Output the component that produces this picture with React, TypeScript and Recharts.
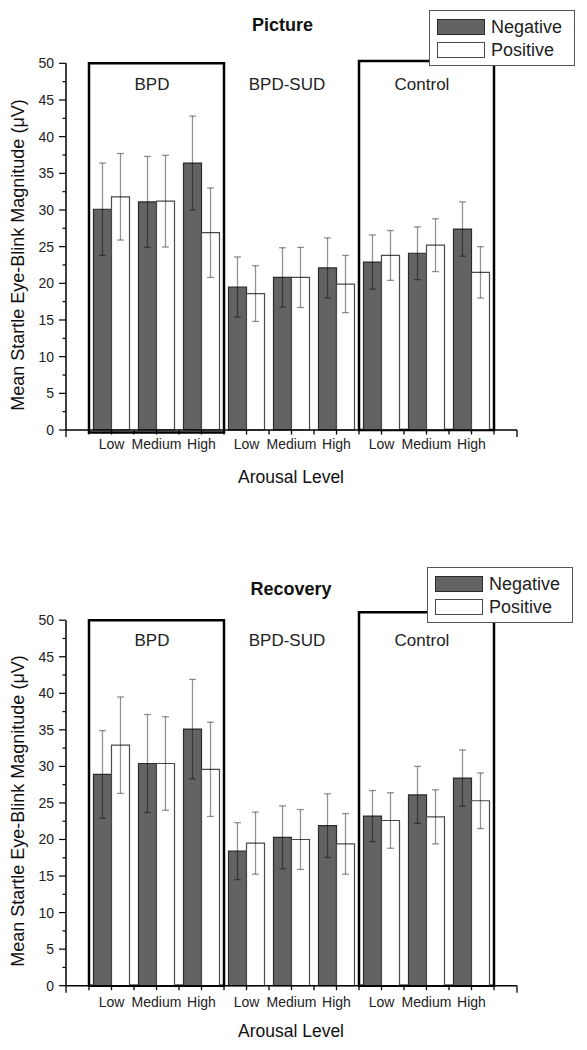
import React from 'react';
import { BarChart, Bar, XAxis, YAxis, ErrorBar, ReferenceArea, Legend } from 'recharts';

const groups = ['BPD', 'BPD-SUD', 'Control'];
const levels = ['Low', 'Medium', 'High'];
const valueTicks = [0, 2.5, 5, 7.5, 10, 12.5, 15, 17.5, 20, 22.5, 25, 27.5, 30, 32.5, 35, 37.5, 40, 42.5, 45, 47.5, 50];

// Picture phase
const pictureNegative = [30.1, 31.1, 36.4, 19.5, 20.8, 22.1, 22.9, 24.1, 27.4];
const pictureNegativeErr = [6.3, 6.2, 6.4, 4.1, 4.05, 4.1, 3.7, 3.6, 3.7];
const picturePositive = [31.8, 31.2, 26.9, 18.6, 20.8, 19.9, 23.8, 25.2, 21.5];
const picturePositiveErr = [5.9, 6.25, 6.1, 3.8, 4.1, 3.9, 3.4, 3.6, 3.5];

// Recovery phase
const recoveryNegative = [28.9, 30.4, 35.1, 18.4, 20.3, 21.9, 23.2, 26.1, 28.4];
const recoveryNegativeErr = [6.0, 6.7, 6.8, 3.9, 4.3, 4.35, 3.5, 3.9, 3.85];
const recoveryPositive = [32.9, 30.4, 29.6, 19.5, 20.0, 19.4, 22.6, 23.1, 25.3];
const recoveryPositiveErr = [6.6, 6.4, 6.45, 4.25, 4.1, 4.15, 3.8, 3.7, 3.8];

const FONT = '"Liberation Sans", Arial, Helvetica, sans-serif';
const NEG_FILL = '#636363';
const NEG_STROKE = '#2b2b2b';
const POS_STROKE = '#4a4a4a';
const ERR_STROKE = 'rgba(0,0,0,0.42)';
const PAD = 23;
const X_TICK = 7;
const X_MINOR = 4.5;
const X_MARGIN = 3;
const Y_TICK = 7;
const Y_MARGIN = 5;

function buildRows(neg: number[], negErr: number[], pos: number[], posErr: number[]) {
  const rows: any[] = [];
  groups.forEach((g, gi) =>
    levels.forEach((l, li) => {
      const i = gi * levels.length + li;
      rows.push({ key: `${g} ${l}`, neg: neg[i], negErr: negErr[i], pos: pos[i], posErr: posErr[i] });
    })
  );
  return rows;
}

const pictureRows = buildRows(pictureNegative, pictureNegativeErr, picturePositive, picturePositiveErr);
const recoveryRows = buildRows(recoveryNegative, recoveryNegativeErr, recoveryPositive, recoveryPositiveErr);

function CategoryTick(props: any) {
  const { x, y, payload, index, labelDy } = props;
  const axisY = y - X_TICK - X_MARGIN;
  const half = payload.offset ?? 0;
  const last = groups.length * levels.length - 1;
  // short ticks at the category centre and its left edge, long ones at the axis ends
  const marks: [number, number][] = [
    [x, X_MINOR],
    [x - half, X_MINOR],
  ];
  if (index === 0) marks.push([x - half - PAD, X_TICK]);
  if (index === last) marks.push([x + half, X_MINOR], [x + half + PAD, X_TICK]);
  const level = String(payload.value).split(' ').pop();
  return (
    <g>
      {marks.map(([m, len]) => (
        <line key={m} x1={m} x2={m} y1={axisY} y2={axisY + len} stroke="#000" strokeWidth={1.3} />
      ))}
      <text x={x} y={axisY + labelDy} dy="0.35em" textAnchor="middle" fontSize={14} fill="#222" fontFamily={FONT}>
        {level}
      </text>
    </g>
  );
}

function ValueTick(props: any) {
  const { x, y, payload } = props;
  const axisX = x + Y_TICK + Y_MARGIN;
  const v = payload.value;
  const major = v % 5 === 0;
  return (
    <g>
      <line x1={axisX - (major ? Y_TICK : 3.5)} x2={axisX} y1={y} y2={y} stroke="#000" strokeWidth={1.2} />
      {major && (
        <text x={axisX - Y_TICK - Y_MARGIN} y={y} dy="0.35em" textAnchor="end" fontSize={14} fill="#222" fontFamily={FONT}>
          {v}
        </text>
      )}
    </g>
  );
}

const swatchStroke: Record<string, string> = { neg: NEG_STROKE, pos: POS_STROKE };

function LegendBox({ payload }: any) {
  return (
    <div
      style={{
        width: 146,
        height: 56,
        boxSizing: 'border-box',
        border: '1px solid #555',
        background: '#fff',
        padding: '4.5px 0 0 7px',
        fontFamily: FONT,
      }}
    >
      {(payload || []).map((entry: any) => (
        <div key={entry.value} style={{ display: 'flex', alignItems: 'center', height: 23 }}>
          <span
            style={{
              display: 'inline-block',
              width: 48,
              height: 16,
              boxSizing: 'border-box',
              background: entry.color,
              border: `1px solid ${swatchStroke[entry.dataKey] ?? '#444'}`,
            }}
          />
          <span style={{ marginLeft: 6, fontSize: 18, lineHeight: '23px', color: '#222' }}>{entry.value}</span>
        </div>
      ))}
    </div>
  );
}

interface Box {
  x1: string;
  x2: string;
  y1: number;
  y2: number;
}

interface StartleChartProps {
  title: string;
  titleX: number;
  titleY: number;
  rows: any[];
  boxes: Box[];
  marginTop: number;
  marginBottom: number;
  legendLeft: number;
  legendTop: number;
  yLabelY: number;
  xLabelY: number;
  labelOffset: number;
  tickLabelDy: number;
}

function StartleChart(p: StartleChartProps) {
  return (
    <BarChart
      width={587}
      height={525}
      data={p.rows}
      margin={{ top: p.marginTop, right: 70, bottom: p.marginBottom, left: 0 }}
      barCategoryGap="10%"
      barGap={0}
    >
      <text x={p.titleX} y={p.titleY} dy="0.35em" textAnchor="middle" fontSize={18} fontWeight="bold" fill="#111" fontFamily={FONT}>
        {p.title}
      </text>
      <text
        x={18}
        y={p.yLabelY}
        dy="0.35em"
        textAnchor="middle"
        fontSize={18}
        fill="#111"
        fontFamily={FONT}
        transform={`rotate(-90 18 ${p.yLabelY})`}
      >
        Mean Startle Eye-Blink Magnitude (μV)
      </text>
      <text x={291} y={p.xLabelY} dy="0.35em" textAnchor="middle" fontSize={17.5} fill="#111" fontFamily={FONT}>
        Arousal Level
      </text>
      <XAxis
        dataKey="key"
        interval={0}
        padding={{ left: PAD, right: PAD }}
        height={60}
        tickLine={false}
        tickSize={X_TICK}
        tickMargin={X_MARGIN}
        axisLine={{ stroke: '#000', strokeWidth: 1.5 }}
        tick={(t: any) => <CategoryTick {...t} labelDy={p.tickLabelDy} />}
      />
      <YAxis
        width={66}
        domain={[0, 50]}
        ticks={valueTicks}
        interval={0}
        tickLine={false}
        tickSize={Y_TICK}
        tickMargin={Y_MARGIN}
        axisLine={{ stroke: '#000', strokeWidth: 1.5 }}
        tick={(t: any) => <ValueTick {...t} />}
      />
      {groups.map((g) => (
        <ReferenceArea
          key={`label-${g}`}
          x1={`${g} ${levels[0]}`}
          x2={`${g} ${levels[levels.length - 1]}`}
          y1={0}
          y2={50}
          fill="none"
          stroke="none"
          ifOverflow="visible"
          label={{ value: g, position: 'insideTop', offset: p.labelOffset, dx: -4.5, fontSize: 17, fill: '#222', fontFamily: FONT }}
        />
      ))}
      {p.boxes.map((b) => (
        <ReferenceArea
          key={`box-${b.x1}`}
          x1={b.x1}
          x2={b.x2}
          y1={b.y1}
          y2={b.y2}
          fill="none"
          fillOpacity={0}
          stroke="#000"
          strokeWidth={2.5}
          strokeOpacity={1}
          ifOverflow="visible"
        />
      ))}
      <Bar dataKey="neg" name="Negative" fill={NEG_FILL} stroke={NEG_STROKE} strokeWidth={1.2} isAnimationActive={false}>
        <ErrorBar dataKey="negErr" width={3.5} stroke={ERR_STROKE} strokeWidth={1.3} isAnimationActive={false} />
      </Bar>
      <Bar dataKey="pos" name="Positive" fill="#ffffff" stroke={POS_STROKE} strokeWidth={1.2} isAnimationActive={false}>
        <ErrorBar dataKey="posErr" width={3.5} stroke={ERR_STROKE} strokeWidth={1.3} isAnimationActive={false} />
      </Bar>
      <Legend
        layout="vertical"
        align="center"
        verticalAlign="middle"
        width={146}
        wrapperStyle={{ position: 'absolute', left: p.legendLeft, top: p.legendTop, width: 146, height: 56 }}
        content={(lp: any) => <LegendBox payload={lp.payload} />}
      />
    </BarChart>
  );
}

export default function App() {
  return (
    <div style={{ position: 'absolute', left: 0, top: 0, width: 587, height: 1050, background: '#fff', fontFamily: FONT }}>
      <StartleChart
        title="Picture"
        titleX={282.5}
        titleY={25}
        rows={pictureRows}
        boxes={[
          { x1: 'BPD Low', x2: 'BPD High', y1: -0.35, y2: 50 },
          { x1: 'Control Low', x2: 'Control High', y1: 0, y2: 50.3 },
        ]}
        marginTop={63.3}
        marginBottom={35}
        legendLeft={429}
        legendTop={10}
        yLabelY={255}
        xLabelY={477}
        labelOffset={15}
        tickLabelDy={14}
      />
      <StartleChart
        title="Recovery"
        titleX={291}
        titleY={64}
        rows={recoveryRows}
        boxes={[
          { x1: 'BPD Low', x2: 'BPD High', y1: 0, y2: 50 },
          { x1: 'Control Low', x2: 'Control High', y1: 0, y2: 51.1 },
        ]}
        marginTop={95.2}
        marginBottom={4.3}
        legendLeft={427}
        legendTop={42}
        yLabelY={286}
        xLabelY={506}
        labelOffset={14}
        tickLabelDy={16}
      />
    </div>
  );
}
